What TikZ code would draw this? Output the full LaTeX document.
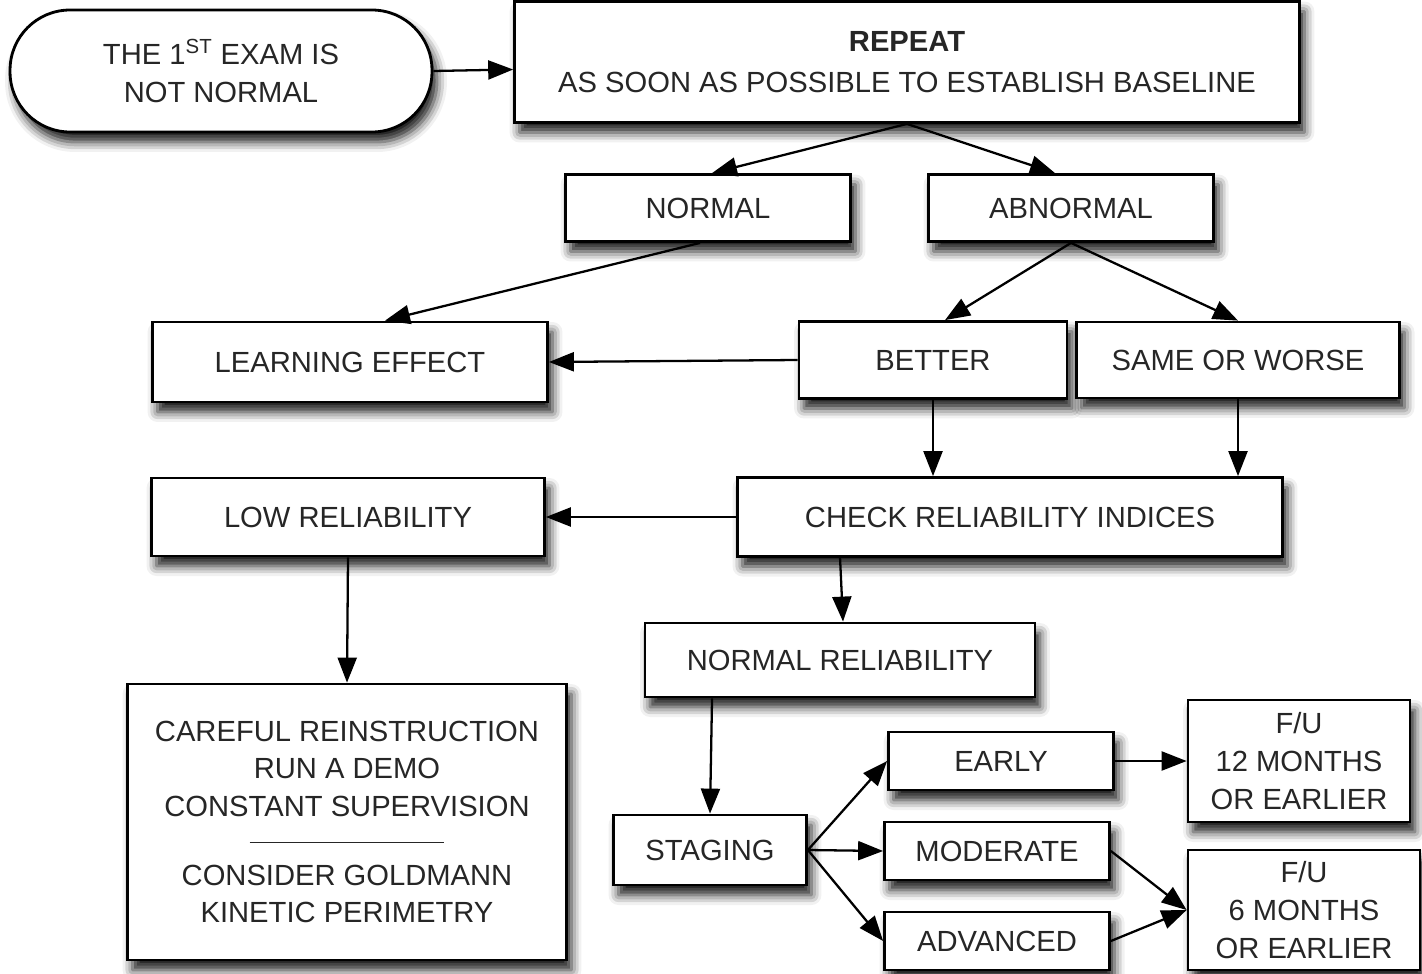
\documentclass[tikz,border=0pt]{standalone}
\usepackage{fontspec}
\setmainfont{Liberation Sans}
\usepackage{tikz}
\usepackage{xcolor}
\usetikzlibrary{arrows.meta,shadows.blur}

\begin{document}
\begin{tikzpicture}[x=0.02cm,y=-0.02cm,
  box/.style={draw, rectangle, fill=white, line width=1.6pt, align=center, inner sep=2pt,
    font=\fontsize{16.6}{21.5}\selectfont, text=black!85,
    blur shadow={shadow xshift=0.1cm, shadow yshift=-0.2cm, shadow blur radius=0.2cm, shadow opacity=90}},
  arr/.style={-{Triangle[length=0.5cm, width=0.38cm]}, line width=1.3pt}]
\useasboundingbox (0,0) rectangle (1422,973);

% Start and repeat
\node[box, rounded corners=1.2cm, minimum width=8.44cm, minimum height=2.44cm] (start) at (221,71) {THE 1\textsuperscript{ST} EXAM IS\\NOT NORMAL};
\node[box, minimum width=15.7cm, minimum height=2.42cm] (repeat) at (907,62) {\textbf{REPEAT}\\[2pt]AS SOON AS POSSIBLE TO ESTABLISH BASELINE};

% Second exam result
\node[box, minimum width=5.7cm, minimum height=1.34cm] (normal) at (708,208) {NORMAL};
\node[box, minimum width=5.7cm, minimum height=1.34cm] (abnormal) at (1071,208) {ABNORMAL};

% Change
\node[box, minimum width=7.9cm, minimum height=1.6cm] (learning) at (350,362) {LEARNING EFFECT};
\node[box, minimum width=5.36cm, minimum height=1.54cm] (better) at (933,360) {BETTER};
\node[box, minimum width=6.46cm, minimum height=1.52cm] (same) at (1238,360) {SAME OR WORSE};

% Reliability
\node[box, minimum width=7.86cm, minimum height=1.56cm] (low) at (348,517) {LOW RELIABILITY};
\node[box, minimum width=10.9cm, minimum height=1.58cm] (check) at (1010,517) {CHECK RELIABILITY INDICES};
\node[box, minimum width=7.8cm, minimum height=1.48cm] (normrel) at (840,660) {NORMAL RELIABILITY};
\node[box, minimum width=8.78cm, minimum height=5.52cm] (careful) at (347,822) {CAREFUL REINSTRUCTION\\RUN A DEMO\\CONSTANT SUPERVISION\\[-2pt]\rule[0.5ex]{3.9cm}{0.8pt}\\[-2pt]CONSIDER GOLDMANN\\KINETIC PERIMETRY};

% Staging
\node[box, minimum width=3.86cm, minimum height=1.4cm] (staging) at (710,850) {STAGING};
\node[box, minimum width=4.5cm, minimum height=1.16cm] (early) at (1001,761) {EARLY};
\node[box, minimum width=4.5cm, minimum height=1.16cm] (moderate) at (997,851) {MODERATE};
\node[box, minimum width=4.5cm, minimum height=1.16cm] (advanced) at (997,941) {ADVANCED};
\node[box, minimum width=4.44cm, minimum height=2.44cm] (fu12) at (1299,761) {F/U\\12 MONTHS\\OR EARLIER};
\node[box, minimum width=4.64cm, minimum height=2.4cm] (fu6) at (1304,910) {F/U\\6 MONTHS\\OR EARLIER};

% Arrows
\draw[arr] (start.east) -- ([yshift=-0.15cm]repeat.west);
\draw[arr] (repeat.south) -- ([xshift=0.08cm]normal.north);
\draw[arr] (repeat.south) -- ([xshift=-0.32cm]abnormal.north);
\draw[arr] ([xshift=-0.16cm]normal.south) -- ([xshift=0.7cm]learning.north);
\draw[arr] (abnormal.south) -- ([xshift=0.24cm]better.north);
\draw[arr] (abnormal.south) -- (same.north);
\draw[arr] (better.west) -- (learning.east);
\draw[arr] (better.south) -- (better.south |- check.north);
\draw[arr] (same.south) -- (same.south |- check.north);
\draw[arr] (check.west) -- (low.east);
\draw[arr] ([xshift=-3.4cm]check.south) -- ([xshift=0.06cm]normrel.north);
\draw[arr] (low.south) -- (careful.north);
\draw[arr] ([xshift=-2.56cm]normrel.south) -- (staging.north);
\draw[arr] (staging.east) -- (early.west);
\draw[arr] (staging.east) -- (moderate.west);
\draw[arr] (staging.east) -- (advanced.west);
\draw[arr] (early.east) -- (fu12.west);
\draw[arr] (moderate.east) -- (fu6.west);
\draw[arr] (advanced.east) -- (fu6.west);
\end{tikzpicture}
\end{document}
